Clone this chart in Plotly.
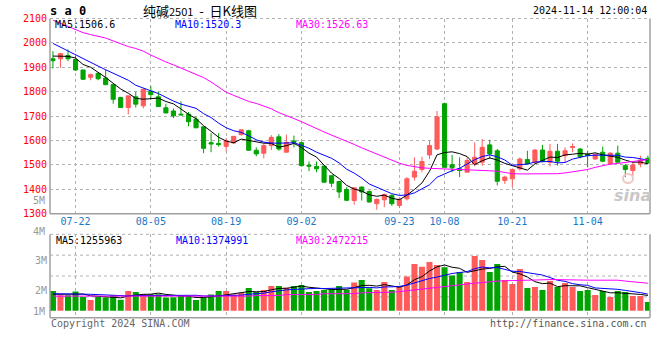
import numpy as np
import pandas as pd
import plotly.graph_objects as go

# ---------------- data ----------------
holidays = ['2024-09-16', '2024-09-17', '2024-10-01', '2024-10-02',
            '2024-10-03', '2024-10-04', '2024-10-07']
trading_days = [d for d in pd.bdate_range('2024-07-17', '2024-11-14')
                if d.strftime('%Y-%m-%d') not in holidays]
dates = [d.strftime('%m-%d') for d in trading_days]

open_ = [1935, 1935, 1948, 1932, 1889, 1859, 1875, 1856, 1829, 1776,
         1735, 1779, 1742, 1802, 1779, 1734, 1721, 1708, 1708, 1687,
         1656, 1591, 1588, 1576, 1590, 1624, 1640, 1560, 1548, 1579,
         1615, 1552, 1598, 1591, 1499, 1493, 1495, 1456, 1432, 1399,
         1354, 1409, 1391, 1341, 1357, 1375, 1334, 1361, 1450, 1481,
         1541, 1565, 1751, 1501, 1484, 1470, 1504, 1511, 1582, 1558,
         1436, 1443, 1484, 1522, 1511, 1561, 1511, 1556, 1538, 1571,
         1565, 1545, 1524, 1552, 1504, 1548, 1497, 1477, 1504, 1527]
high = [1966, 1959, 1973, 1946, 1890, 1874, 1880, 1891, 1833, 1779,
        1783, 1800, 1812, 1823, 1800, 1751, 1731, 1760, 1717, 1698,
        1656, 1630, 1630, 1610, 1617, 1644, 1644, 1572, 1588, 1622,
        1626, 1624, 1620, 1595, 1514, 1514, 1495, 1456, 1432, 1409,
        1409, 1412, 1395, 1362, 1382, 1379, 1368, 1450, 1531, 1534,
        1599, 1721, 1755, 1541, 1531, 1531, 1592, 1606, 1603, 1565,
        1456, 1486, 1531, 1558, 1565, 1582, 1586, 1586, 1572, 1588,
        1569, 1558, 1548, 1575, 1552, 1579, 1504, 1511, 1538, 1538]
low = [1895, 1898, 1925, 1885, 1848, 1847, 1847, 1826, 1751, 1735,
       1707, 1735, 1732, 1769, 1739, 1712, 1692, 1704, 1658, 1652,
       1548, 1552, 1575, 1556, 1586, 1620, 1558, 1535, 1527, 1561,
       1558, 1552, 1572, 1493, 1474, 1470, 1429, 1409, 1364, 1352,
       1337, 1354, 1346, 1316, 1327, 1332, 1323, 1354, 1436, 1470,
       1524, 1561, 1490, 1470, 1450, 1470, 1494, 1497, 1524, 1416,
       1422, 1409, 1477, 1501, 1504, 1511, 1494, 1497, 1511, 1552,
       1527, 1490, 1521, 1511, 1501, 1511, 1450, 1454, 1490, 1504]
close = [1927, 1956, 1935, 1889, 1851, 1870, 1853, 1829, 1769, 1735,
         1783, 1749, 1810, 1788, 1739, 1713, 1701, 1705, 1677, 1652,
         1568, 1586, 1583, 1599, 1617, 1644, 1560, 1545, 1579, 1613,
         1565, 1592, 1592, 1497, 1495, 1484, 1429, 1425, 1389, 1355,
         1406, 1389, 1348, 1359, 1379, 1341, 1359, 1443, 1474, 1514,
         1579, 1697, 1490, 1488, 1477, 1518, 1531, 1572, 1545, 1433,
         1450, 1481, 1524, 1504, 1561, 1515, 1556, 1515, 1558, 1575,
         1534, 1538, 1543, 1515, 1548, 1511, 1481, 1500, 1520, 1508]
# volume in millions
volume = [1.99, 1.85, 1.85, 1.97, 1.79, 1.69, 1.79, 1.77, 1.86, 1.70,
          1.99, 1.96, 1.89, 1.88, 1.88, 1.77, 1.78, 1.83, 1.80, 1.69,
          1.77, 1.87, 1.99, 1.99, 1.87, 1.92, 2.09, 1.96, 2.02, 2.16,
          2.16, 2.10, 2.16, 2.19, 1.96, 1.99, 2.02, 2.04, 2.16, 2.03,
          2.27, 2.36, 2.08, 2.02, 2.29, 2.02, 2.16, 2.47, 2.89, 2.80,
          2.96, 2.86, 2.78, 2.51, 2.62, 2.29, 3.16, 3.02, 2.62, 2.89,
          2.36, 2.22, 2.72, 2.09, 2.12, 2.02, 2.32, 2.12, 2.26, 2.12,
          1.99, 2.02, 1.86, 1.99, 1.79, 1.99, 1.96, 1.82, 1.82, 1.62]

# moving-average lines: start of each line (history before window)
ma5_head = [1946, 1946, 1945, 1938]
ma10_head = [1998, 1982, 1966, 1950, 1935, 1920, 1905, 1890, 1876]
ma30 = [2093, 2080, 2066, 2052, 2042, 2034, 2027, 2020, 2008, 1996,
        1985, 1977, 1966, 1950, 1935, 1922, 1910, 1897, 1885, 1871,
        1858, 1840, 1820, 1798, 1785, 1772, 1760, 1752, 1740, 1730,
        1714, 1703, 1690, 1677, 1662, 1648, 1635, 1622, 1610, 1598,
        1584, 1570, 1557, 1543, 1530, 1518, 1507, 1498, 1492, 1488,
        1486, 1485, 1484, 1483, 1482, 1481, 1479, 1477, 1476, 1474,
        1468, 1464, 1463, 1463, 1463, 1463, 1463, 1464, 1467, 1471,
        1475, 1481, 1490, 1498, 1503, 1506, 1510, 1514, 1518, 1522]
vol_ma5_head = [1.88, 1.88, 1.89, 1.90]
vol_ma10_head = [1.90, 1.90, 1.89, 1.89, 1.88, 1.88, 1.87, 1.86, 1.85]
vol_ma30 = [1.82, 1.82, 1.82, 1.82, 1.82, 1.82, 1.82, 1.82, 1.82, 1.82,
            1.81, 1.81, 1.81, 1.81, 1.81, 1.81, 1.81, 1.81, 1.81, 1.81,
            1.82, 1.82, 1.82, 1.82, 1.82, 1.82, 1.82, 1.84, 1.84, 1.84,
            1.84, 1.87, 1.87, 1.87, 1.87, 1.87, 1.90, 1.90, 1.90, 1.90,
            1.90, 1.93, 1.93, 1.93, 1.93, 1.95, 1.97, 2.00, 2.03, 2.06,
            2.09, 2.12, 2.15, 2.18, 2.20, 2.22, 2.25, 2.27, 2.30, 2.32,
            2.33, 2.34, 2.35, 2.36, 2.36, 2.37, 2.37, 2.37, 2.36, 2.36,
            2.36, 2.35, 2.35, 2.35, 2.35, 2.35, 2.32, 2.30, 2.27, 2.25]
vol_floor = 1.333   # bottom of the volume bars (axis floor)

tick_labels = ['07-22', '08-05', '08-19', '09-02', '09-23', '10-08', '10-21', '11-04']
price_ticks = [1300, 1400, 1500, 1600, 1700, 1800, 1900, 2000, 2100]

title_text = '纯碱<span style="font-size:11px">2501</span>&nbsp; - &nbsp;日K线图'
code_text = 's a 0'
time_text = '2024-11-14 12:00:04'
legend_main = ['MA5:1506.6', 'MA10:1520.3', 'MA30:1526.63']
legend_vol = ['MA5:1255963', 'MA10:1374991', 'MA30:2472215']


def moving_average(values, n, head):
    s = pd.Series(values, dtype=float).rolling(n).mean().to_numpy()
    s[:n - 1] = head
    return s


ma5 = moving_average(close, 5, ma5_head)
ma10 = moving_average(close, 10, ma10_head)
vol_ma5 = moving_average(volume, 5, vol_ma5_head)
vol_ma10 = moving_average(volume, 10, vol_ma10_head)

# ---------------- figure ----------------
W, H = 660, 360
RED, GREEN = '#ff5b5b', '#00a300'
GRID = '#b0b0b0'
MONO = 'DejaVu Sans Mono'
x = list(range(len(dates)))
tickvals = [dates.index(t) for t in tick_labels]


def py(pix):
    return 1 - pix / H


def px(pix):
    return pix / W


fig = go.Figure()
fig.add_trace(go.Candlestick(
    x=x, open=open_, high=high, low=low, close=close,
    increasing=dict(line=dict(color=RED, width=1), fillcolor=RED),
    decreasing=dict(line=dict(color=GREEN, width=1), fillcolor=GREEN),
    whiskerwidth=0, xaxis='x', yaxis='y', showlegend=False, hoverinfo='skip'))
for vals, col in [(ma5, 'black'), (ma10, '#0000ff'), (ma30, '#ff00ff')]:
    fig.add_trace(go.Scatter(x=x, y=vals, mode='lines', line=dict(color=col, width=1),
                             xaxis='x', yaxis='y', showlegend=False, hoverinfo='skip'))

bar_colors = [RED if c >= o else GREEN for o, c in zip(open_, close)]
fig.add_trace(go.Bar(x=x, y=[v - vol_floor for v in volume], base=vol_floor,
                     marker=dict(color=bar_colors, line=dict(width=0)),
                     xaxis='x2', yaxis='y2', showlegend=False, hoverinfo='skip'))
for vals, col in [(vol_ma5, 'black'), (vol_ma10, '#0000ff'), (vol_ma30, '#ff00ff')]:
    fig.add_trace(go.Scatter(x=x, y=vals, mode='lines', line=dict(color=col, width=1),
                             xaxis='x2', yaxis='y2', showlegend=False, hoverinfo='skip'))

main_top, main_bot = 18.5, 213.7
vol_top, vol_bot = 234.3, 317.7
x_left, x_right = 50, 650
xrange = [-0.39, len(dates) - 1 + 0.28]

common_x = dict(domain=[px(x_left), px(x_right)], range=xrange, tickvals=tickvals,
                showgrid=True, gridcolor=GRID, griddash='dot', gridwidth=1,
                zeroline=False, showline=False, ticks='', automargin=False)
fig.update_layout(
    width=W, height=H, margin=dict(l=0, r=0, t=0, b=0, autoexpand=False),
    paper_bgcolor='white', plot_bgcolor='white',
    bargap=0.2, boxgap=0.22, showlegend=False, hovermode=False,
    xaxis=dict(common_x, anchor='y', ticktext=tick_labels, showticklabels=True,
               tickfont=dict(family=MONO, size=10, color='#1878c8'),
               rangeslider=dict(visible=False)),
    xaxis2=dict(common_x, anchor='y2', matches='x', showticklabels=False),
    yaxis=dict(domain=[py(main_bot), py(main_top)], range=[1300, 2100],
               tickvals=price_ticks, showgrid=True, gridcolor=GRID, griddash='dot',
               zeroline=False, showline=False, ticks='', ticklabelstandoff=2,
               automargin=False,
               tickfont=dict(family=MONO, size=10, color='#ff0000')),
    yaxis2=dict(domain=[py(vol_bot), py(vol_top)],
                range=[2 - (vol_bot - 290.7) / 30, 2 + (290.7 - vol_top) / 30],
                tickvals=[2, 3], ticktext=['2M', '3M'], showgrid=False,
                zeroline=False, showline=False, ticks='', ticklabelstandoff=2,
                automargin=False,
                tickfont=dict(family=MONO, size=10, color='#999999')),
)

shapes = []
border = dict(color='#a0a0a0', width=1.5)
for top, bot in [(main_top, main_bot), (vol_top, vol_bot)]:
    shapes.append(dict(type='line', xref='paper', yref='paper', x0=px(x_left), x1=px(x_left),
                       y0=py(bot), y1=py(top), line=border))
    shapes.append(dict(type='line', xref='paper', yref='paper', x0=px(x_right), x1=px(x_right),
                       y0=py(bot), y1=py(top), line=border))
    shapes.append(dict(type='line', xref='paper', yref='paper', x0=px(x_left), x1=px(x_right),
                       y0=py(bot), y1=py(bot), line=border))
    shapes.append(dict(type='line', xref='paper', yref='paper', x0=px(x_left), x1=px(x_right),
                       y0=py(top), y1=py(top), line=dict(color=GRID, width=1, dash='dot')))
for f in [0.25, 0.5, 0.75]:
    shapes.append(dict(type='line', xref='paper', yref='y2 domain', x0=px(x_left), x1=px(x_right),
                       y0=f, y1=f, line=dict(color=GRID, width=1, dash='dot'), layer='below'))
# faint sina watermark eye
shapes.append(dict(type='circle', xref='paper', yref='paper',
                   x0=px(623), x1=px(633), y0=py(183), y1=py(174),
                   line=dict(color='#f0c8c8', width=2)))
fig.update_layout(shapes=shapes)

ann = []


def text(t, xp, yp, color='black', size=10, family=MONO, xanchor='left', **kw):
    ann.append(dict(text=t, x=px(xp), y=py(yp), xref='paper', yref='paper',
                    xanchor=xanchor, yanchor='middle', showarrow=False,
                    font=dict(family=family, size=size, color=color), **kw))


text('<b>' + code_text + '</b>', 48, 10.5, size=12)
text(title_text, 200, 10, size=13, family='Noto Sans CJK SC', xanchor='center')
text(time_text, 649, 10.5, xanchor='right')
for t, xp, col in zip(legend_main, [53, 173, 294], ['black', '#0000ff', '#ff00ff']):
    text(t, xp, 24.5, color=col)
for t, xp, col in zip(legend_vol, [54, 174, 294], ['black', '#0000ff', '#ff00ff']):
    text(t, xp, 240, color=col)
text('5M', 47, 200, color='#999999', xanchor='right')
text('4M', 47, 231, color='#999999', xanchor='right')
text('1M', 47, 311, color='#999999', xanchor='right')
text('Copyright 2024 SINA.COM', 49, 323, color='#666666')
text('http://finance.sina.com.cn', 649, 323, color='#555555', xanchor='right')
text('<b><i>sina</i></b>', 632, 196, color='#c8c8c8', size=16, family='DejaVu Sans',
     xanchor='center')
fig.update_layout(annotations=ann)

fig.write_html('out.html', config={'displayModeBar': False, 'staticPlot': True},
               post_script="document.body.style.margin='0';document.body.style.padding='0';")
